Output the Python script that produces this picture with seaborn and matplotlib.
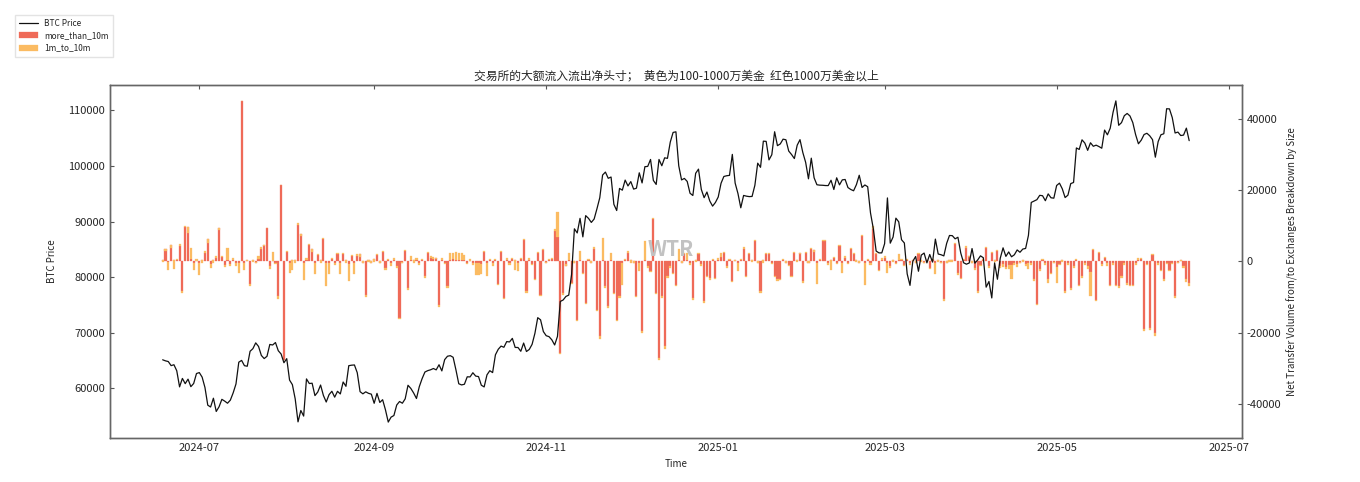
import numpy as np
import pandas as pd
import matplotlib
matplotlib.use("Agg")
import matplotlib.pyplot as plt
import matplotlib.dates as mdates
import seaborn as sns

START_DATE = "2024-06-18"

# daily BTC close, 2024-06-18 .. 2025-06-17 (one row per week)
btc_price = [
    65150, 64960, 64830, 64100, 64260, 63180, 60280,
    61800, 60860, 61670, 60320, 60890, 62680, 62850,
    62030, 60170, 56990, 56660, 58240, 55860, 56700,
    58040, 57720, 57340, 57890, 59200, 60800, 64720,
    65040, 64090, 63990, 66680, 67150, 68190, 67550,
    65930, 65370, 65780, 67910, 67810, 68250, 66780,
    66190, 64620, 65350, 61500, 60680, 58120, 53990,
    56030, 55030, 61710, 60880, 60940, 58710, 59350,
    60610, 58740, 57560, 58880, 59490, 58430, 59480,
    59010, 61160, 60380, 64090, 64180, 64220, 62830,
    59420, 59030, 59390, 59120, 58970, 57330, 59110,
    57480, 57970, 56160, 53950, 54840, 55130, 57020,
    57650, 57340, 58130, 60570, 60000, 59180, 58190,
    60310, 61760, 62950, 63200, 63350, 63580, 63340,
    64260, 63150, 65180, 65790, 65890, 65600, 63330,
    60840, 60630, 60750, 62090, 62070, 62820, 62220,
    62130, 60580, 60270, 62440, 63190, 62850, 66050,
    67040, 67610, 67400, 68420, 68360, 69000, 67370,
    67360, 66680, 68160, 66640, 67010, 67930, 69910,
    72720, 72340, 70220, 69480, 69310, 68740, 67810,
    69360, 75640, 75900, 76540, 76780, 80470, 88700,
    87960, 90580, 87250, 91070, 90580, 89850, 90460,
    92310, 94290, 98370, 98900, 97780, 98010, 93100,
    91990, 95960, 95650, 97460, 96410, 97190, 95840,
    96000, 98770, 96950, 99870, 99920, 101170, 97400,
    96680, 101170, 100040, 101460, 101370, 104300, 106030,
    106140, 100040, 97490, 97760, 97220, 95100, 94690,
    98680, 99430, 95790, 94300, 95310, 93710, 92780,
    93430, 94420, 96890, 98110, 98240, 98310, 102080,
    96920, 95040, 92480, 94700, 94570, 94490, 94520,
    96530, 100500, 99760, 104460, 104420, 101090, 102020,
    106150, 103650, 103960, 104820, 104710, 102680, 102060,
    101330, 103730, 104730, 102410, 100650, 97690, 101400,
    97870, 96620, 96550, 96530, 96480, 96470, 97430,
    95770, 97870, 96600, 97500, 97570, 96120, 95770,
    95540, 96640, 98330, 96130, 96580, 96270, 91550,
    88700, 84700, 84370, 84370, 86030, 94250, 86120,
    87220, 90620, 89960, 86740, 86150, 80600, 78530,
    82860, 83720, 81070, 83970, 84340, 82580, 84080,
    82720, 86850, 84170, 84040, 83830, 86080, 87500,
    87470, 86900, 87180, 84350, 82600, 82340, 82550,
    85150, 82520, 83100, 83840, 83500, 78210, 79230,
    76270, 82570, 79630, 83400, 85280, 83740, 84540,
    83670, 84030, 84900, 84480, 85060, 85170, 87520,
    93440, 93700, 93940, 94720, 94650, 93750, 94980,
    94280, 94210, 96490, 96910, 95890, 94320, 94750,
    96830, 97030, 103240, 102970, 104700, 104110, 102810,
    104170, 103540, 103740, 103490, 103190, 106450, 105600,
    106790, 109640, 111700, 107310, 107790, 109040, 109440,
    108990, 107800, 105640, 103990, 104640, 105650, 105880,
    105430, 104730, 101580, 104390, 105620, 105790, 110290,
    110260, 108690, 105930, 106090, 105470, 105550, 106800,
    104550,
]

# net transfer volume, transfers larger than 10m USD
more_than_10m = [
    400, 3400, -200, 4600, 300, 300, 4300,
    -8300, 9600, 9600, 800, -300, 200, -300,
    500, 2400, 6200, -600, 400, 1000, 9400,
    1200, -900, 500, -800, 400, -300, -300,
    45000, -400, 500, -6200, 300, -500, 600,
    3600, 4600, 9400, -1400, 200, -300, -9700,
    21300, -27500, 2600, -500, 300, 400, 10100,
    7600, -400, 300, 4600, 3400, -300, 1700,
    500, 6200, -500, -400, 600, -300, 2000,
    -300, 2200, 400, -600, 1500, -400, 1500,
    2000, -300, -9500, 400, -300, 600, 1700,
    -400, 2600, -1800, 500, -300, 400, -1200,
    -15800, -500, 2900, -7400, 400, 300, 500,
    -400, 300, -4100, 2400, 1000, 800, 1100,
    -12300, 300, -400, -6900, 400, 600, 300,
    500, 300, 400, -300, 200, -400, -500,
    -300, -600, 2700, -400, 300, -500, 400,
    -6200, 2700, -10200, 500, -400, 600, 300,
    -300, 700, 5900, -8300, 400, -600, -5000,
    2400, -9300, 3100, -500, 400, 600, 8500,
    7000, -25600, -8800, -1400, 300, -6000, -500,
    -16300, 300, -3200, -11600, 500, -400, 3600,
    -13500, -21000, 400, -6900, -12500, 300, -8800,
    -16300, -9700, -500, 400, 2400, 300, -400,
    -9700, -300, -19500, 500, -1400, -2700, 11800,
    -8800, -27000, -9700, -23800, -4100, -1300, -3200,
    -6500, 300, -400, 2000, 300, -500, -10200,
    400, 2000, -600, -11100, -4100, -4600, 300,
    -4600, 500, 1200, 2400, -1400, 300, -5500,
    400, -300, 500, 3600, -4100, 2000, 400,
    5700, -400, -8300, 300, 2000, 2000, -500,
    -4100, -5000, -5000, 400, -300, -1000, -4100,
    2400, 300, 2400, -5500, 2400, -400, 3400,
    3100, -300, 400, 5700, 5700, -400, 300,
    1000, -300, 4300, -300, 1000, -400, 3400,
    2000, 400, -300, 7100, -300, 500, -400,
    9000, 2000, -2300, 400, 1000, -300, -1300,
    300, -400, 300, 500, -900, 400, -300,
    400, -300, 2000, 300, -400, 500, -1800,
    300, -300, 400, -500, -10500, -400, 300,
    300, 5000, -3200, -4600, 400, 3800, 1500,
    -300, -1800, -8300, -1000, 500, 3800, -1300,
    2400, 400, 2900, -1200, -600, -1500, -900,
    -1000, -500, -700, -400, 300, -800, -500,
    -400, -5000, -12000, -2200, 300, -400, -5000,
    -3200, -500, -1500, -600, 300, -8300, -500,
    -7400, -1300, 400, -6500, -4100, -400, -1200,
    -3000, 3200, -10700, 2400, -800, 1000, -500,
    -6500, -500, -6500, -6900, -4100, -400, -6000,
    -6500, -6500, -400, 500, 800, -19000, -600,
    -18600, 1800, -20000, -500, -2300, -5000, -400,
    -2300, -300, -9700, -500, 400, -1300, -5000,
    -6000,
]

# net transfer volume, transfers between 1m and 10m USD
one_to_10m = [
    -500, -600, -2200, -900, -2500, 300, 600,
    -600, 400, -1500, 3000, -2000, 400, -3600,
    -800, 500, -900, -1200, -800, 500, -700,
    400, -700, 3300, -600, 500, -1000, -2900,
    0, -2000, -500, -600, -400, 300, 800,
    500, -400, 0, -600, 2400, -500, -800,
    0, 0, 300, -2700, -2700, -800, 600,
    -500, -4900, 600, 400, -700, -3200, 500,
    -900, 300, -6500, -3000, 400, -800, 300,
    -3200, 300, -700, -5000, 400, -3000, 500,
    -800, 400, -500, -600, 300, -700, 300,
    500, 400, -700, 300, -900, 500, -600,
    -300, 400, 300, -500, 1000, -600, 400,
    -600, 500, -400, 300, 400, 500, -300,
    -500, 600, -300, -400, 2000, 1800, 2400,
    1900, 2200, 1500, -400, 600, -700, -3200,
    -3600, -3000, 300, -3700, 500, -800, 300,
    -400, 300, -300, 400, -600, 300, -2800,
    -2400, 400, 300, -500, 600, -400, -300,
    300, -400, 500, 300, 400, 500, 600,
    7000, -300, -500, 600, 2100, -400, 500,
    -500, 2600, -300, -400, 300, 600, 400,
    -400, -600, 6200, -500, -600, 2100, -300,
    -500, -400, -6000, 300, 400, -600, 500,
    -300, -2400, -500, 5200, -400, -300, 400,
    -300, -500, -400, -600, -500, -400, -300,
    -300, 3100, 400, 300, 2100, -400, -500,
    -500, 300, -700, -400, -300, -500, 400,
    -300, 400, 1200, 300, -500, 400, -300,
    -300, -2400, 300, 400, -300, 300, -500,
    300, 500, -400, -600, 300, 400, -300,
    -300, -400, -300, 300, 500, -400, -300,
    300, -500, -300, -400, 300, 500, 300,
    -400, -5900, 300, 300, 400, -500, -2600,
    300, -500, 300, -2900, 400, -300, 300,
    300, -500, 300, 400, -6200, 300, -500,
    1000, 300, -400, 500, 400, -2900, -500,
    -500, -400, 1700, 300, -500, 400, -600,
    -300, 500, 300, -400, 300, -500, -300,
    400, -3300, -500, 300, -500, 400, -500,
    -400, 300, -500, -400, 300, 400, -300,
    400, -500, -600, -400, 300, 300, -500,
    300, -500, 300, -600, -900, -700, -1300,
    -4000, -600, -800, 300, -500, -400, -1700,
    -500, -600, -300, -400, 400, -500, -900,
    -400, 300, -4500, -500, -400, -500, -600,
    -500, -400, 300, -400, -500, -600, -800,
    -6700, 300, -400, 300, -500, 300, -700,
    -400, -600, -300, -500, -400, -700, -500,
    -500, -400, -600, 400, 300, -500, -400,
    -500, 300, -800, -400, -500, -600, -300,
    -500, -400, -600, 300, -400, -500, -700,
    -800,
]

TITLE = "交易所的大额流入流出净头寸；  黄色为100-1000万美金  红色1000万美金以上"
RED = "#ef6a58"
YELLOW = "#fbbb62"

sns.set_style("white")
plt.rcParams["font.family"] = ["Noto Sans CJK SC", "DejaVu Sans"]
plt.rcParams["axes.unicode_minus"] = False

dates = pd.date_range(START_DATE, periods=len(btc_price), freq="D")
red = np.array(more_than_10m, dtype=float)
yellow = np.array(one_to_10m, dtype=float)

fig, ax1 = plt.subplots(figsize=(13.6, 4.82), dpi=100)
fig.subplots_adjust(left=0.081, right=0.913, bottom=0.091, top=0.824)
ax2 = ax1.twinx()

ax2.bar(dates, red, width=0.75, color=RED, linewidth=0.2, edgecolor=RED, label="more_than_10m")
ax2.bar(dates, yellow, width=0.75, bottom=red, color=YELLOW, linewidth=0.2, edgecolor=YELLOW,
        label="1m_to_10m")
lim = 1.1 * max(np.abs(red).max(), np.abs(red + yellow).max())
ax2.set_ylim(-lim, lim)

sns.lineplot(x=dates, y=btc_price, ax=ax1, color="#111111", linewidth=0.9, label="BTC Price")
ax1.get_legend().remove()
ax1.set_zorder(ax2.get_zorder() + 1)
ax1.patch.set_visible(False)

ax1.xaxis.set_major_locator(mdates.MonthLocator(bymonth=[1, 3, 5, 7, 9, 11]))
ax1.xaxis.set_major_formatter(mdates.DateFormatter("%Y-%m"))

for ax in (ax1, ax2):
    ax.tick_params(direction="in", length=3, labelsize=8, color="#555555")
    for sp in ax.spines.values():
        sp.set_color("#666666")
        sp.set_linewidth(1.0)
ax1.tick_params(axis="x", top=True)

ax1.set_xlabel("Time", fontsize=7)
ax1.set_ylabel("BTC Price", fontsize=7, labelpad=8)
ax2.set_ylabel("Net Transfer Volume from/to Exchanges Breakdown by Size", fontsize=7)
ax1.set_title(TITLE, fontsize=8.5, pad=4)

ax1.text(0.495, 0.535, "WTR", transform=ax1.transAxes, fontsize=15,
         color="#c2c2c2", ha="center", va="center", fontweight="bold")

h1, l1 = ax1.get_legend_handles_labels()
h2, l2 = ax2.get_legend_handles_labels()
fig.legend(h1 + h2, l1 + l2, loc="upper left", bbox_to_anchor=(0.008, 0.978),
           fontsize=6, frameon=True, edgecolor="#dddddd", fancybox=False,
           handlelength=2.2, borderpad=0.5, labelspacing=0.4)

plt.savefig("out.png", dpi=100)
plt.close()
